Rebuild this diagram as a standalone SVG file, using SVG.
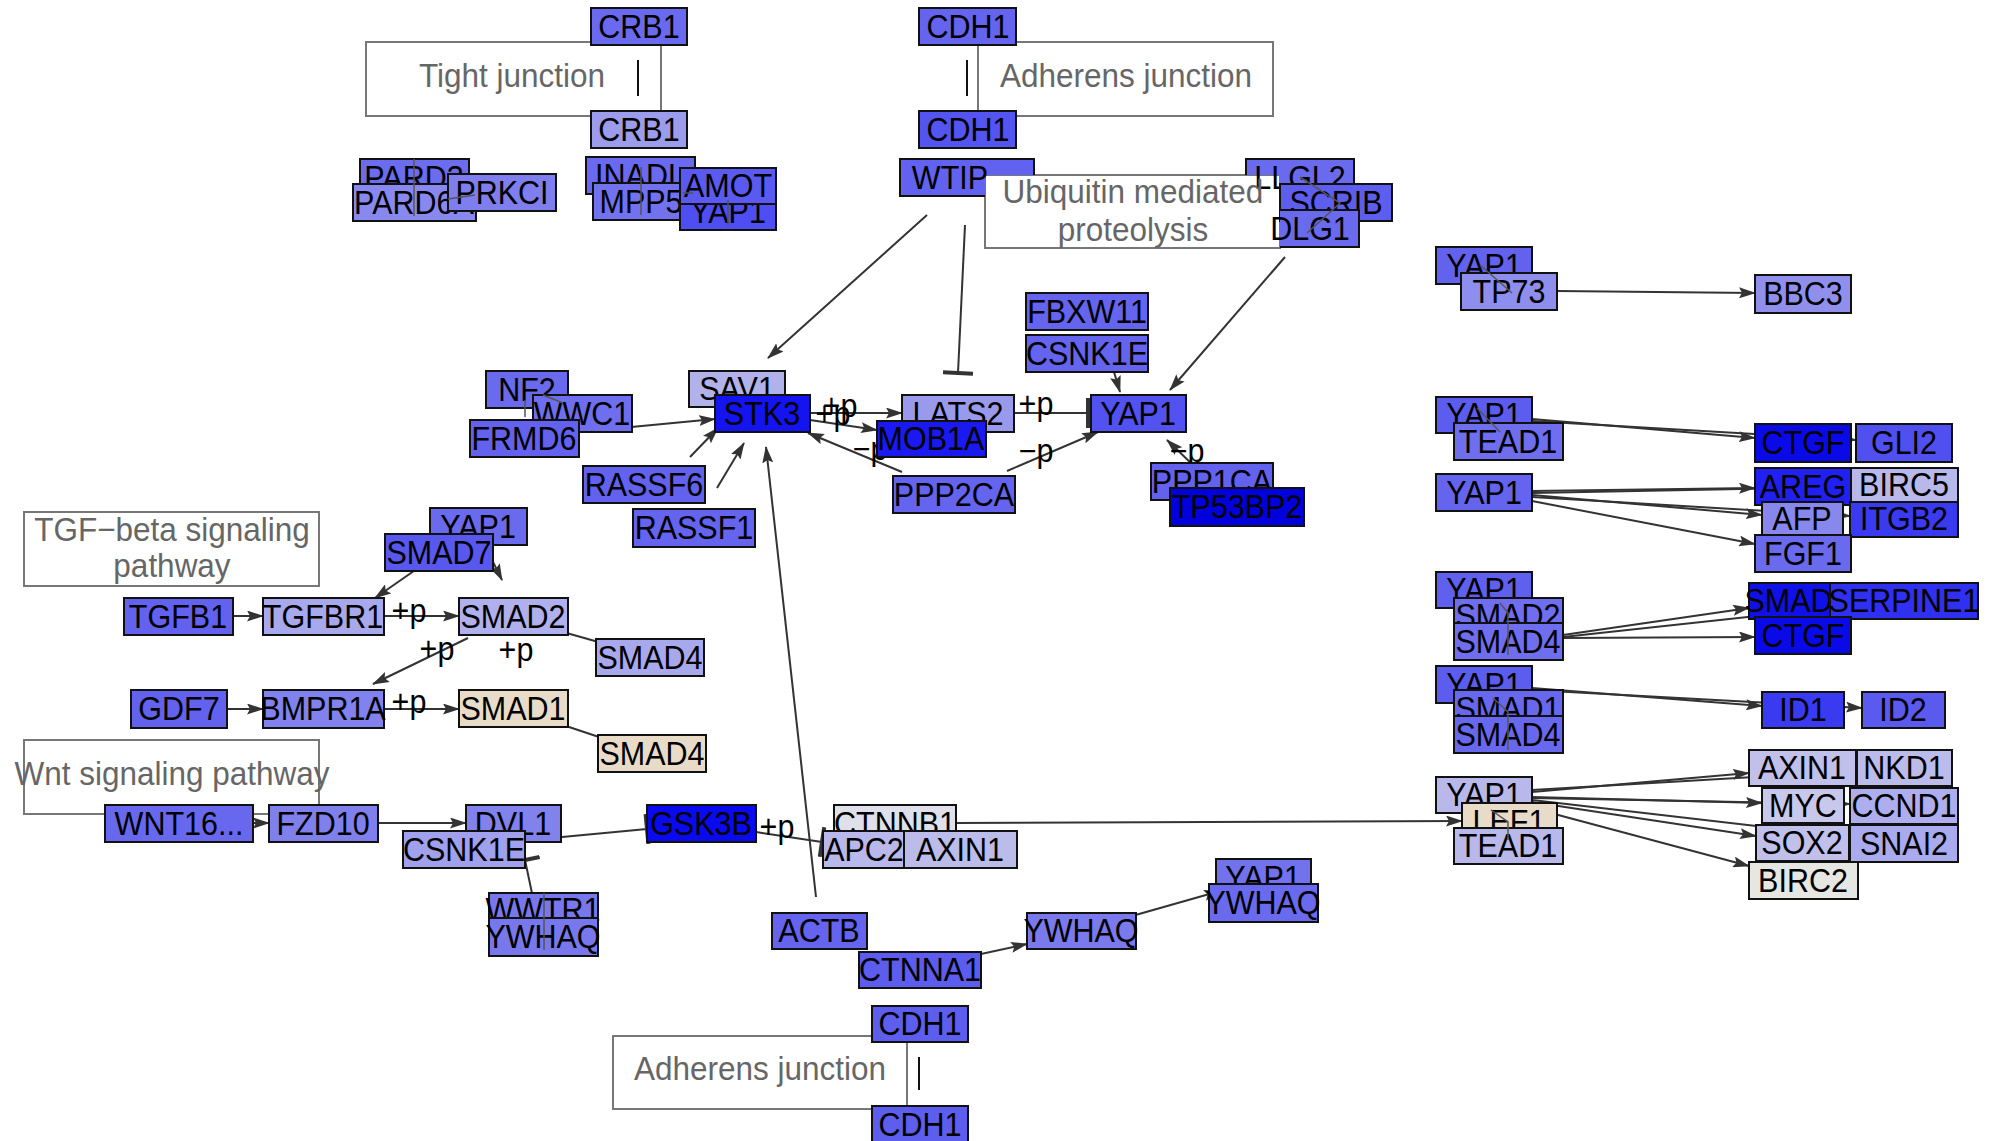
<svg xmlns="http://www.w3.org/2000/svg" width="1996" height="1141" viewBox="0 0 1996 1141">
<style>
.n rect{stroke:#111;stroke-width:2}
.n text,.lbl{font-family:"Liberation Sans",Arial,sans-serif;font-size:30.5px;text-anchor:middle;fill:#000;transform-box:fill-box;transform-origin:50% 70%;transform:scaleY(1.07)}
.grp rect{fill:#fff;stroke:#777;stroke-width:2}
.grp text{font-family:"Liberation Sans",Arial,sans-serif;font-size:31.5px;text-anchor:middle;fill:#666;transform-box:fill-box;transform-origin:50% 70%;transform:scaleY(1.06)}
.e{stroke:#333;stroke-width:2;fill:none}
.ea{stroke:#333;stroke-width:2;fill:none;marker-end:url(#arr)}
.eb{stroke:#333;stroke-width:2;fill:none;marker-end:url(#bar)}
.c{stroke:#555;stroke-width:1.5;fill:none}
.tick{stroke:#111;stroke-width:2}
</style>
<defs>
<marker id="arr" markerUnits="userSpaceOnUse" markerWidth="17" markerHeight="11" refX="16" refY="5.5" orient="auto"><path d="M0,0 L17,5.5 L0,11 L3,5.5 Z" fill="#333"/></marker>
<marker id="bar" markerUnits="userSpaceOnUse" markerWidth="6" markerHeight="30" refX="3" refY="15" orient="auto"><path d="M3,0 V30" stroke="#333" stroke-width="4"/></marker>
<clipPath id="ubq"><path clip-rule="evenodd" d="M0 0H1996V1141H0Z M985 175H1280V248H985Z"/></clipPath>
</defs>
<rect width="1996" height="1141" fill="#fff"/>

<g id="groups">
<g class="grp" id="g-tight"><rect x="366" y="42" width="295" height="74"/><text x="512" y="87">Tight junction</text><line class="tick" x1="638" y1="60" x2="638" y2="96"/></g>
<g class="grp" id="g-adh1"><rect x="978" y="42" width="295" height="74"/><text x="1126" y="87">Adherens junction</text><line class="tick" x1="967" y1="60" x2="967" y2="96"/></g>
<g class="grp" id="g-tgf"><rect x="24" y="512" width="295" height="74"/><text x="172" y="541">TGF−beta signaling</text><text x="172" y="577">pathway</text></g>
<g class="grp" id="g-wnt"><rect x="24" y="740" width="295" height="74"/><text x="172" y="785">Wnt signaling pathway</text></g>
<g class="grp" id="g-adh2"><rect x="613" y="1036" width="294" height="73"/><text x="760" y="1080">Adherens junction</text><line class="tick" x1="919" y1="1057" x2="919" y2="1090"/></g>
<g class="grp" id="g-ubq"><rect x="985" y="175" width="295" height="73"/></g>
</g>

<g id="connectors">
<line class="ea" x1="927" y1="215" x2="768" y2="358"/>
<line class="eb" x1="965" y1="225" x2="958" y2="373"/>
<line class="ea" x1="1285" y1="257" x2="1170" y2="390"/>
<line class="ea" x1="1108" y1="352" x2="1120" y2="392"/>
<line class="eb" x1="1015" y1="413" x2="1088" y2="413"/>
<line class="ea" x1="1007" y1="471" x2="1098" y2="432"/>
<line class="ea" x1="1247" y1="517" x2="1167" y2="440"/>
<line class="ea" x1="810" y1="413" x2="902" y2="413"/>
<line class="ea" x1="810" y1="420" x2="877" y2="430"/>
<line class="ea" x1="902" y1="472" x2="808" y2="433"/>
<line class="ea" x1="579" y1="432" x2="715" y2="419"/>
<line class="ea" x1="690" y1="457" x2="718" y2="428"/>
<line class="ea" x1="717" y1="488" x2="744" y2="443"/>
<line class="ea" x1="816" y1="897" x2="766" y2="447"/>
<line class="ea" x1="480" y1="525" x2="375" y2="598"/>
<line class="ea" x1="490" y1="556" x2="502" y2="580"/>
<line class="ea" x1="233" y1="616" x2="263" y2="616"/>
<line class="ea" x1="384" y1="616" x2="459" y2="616"/>
<line class="ea" x1="468" y1="638" x2="373" y2="684"/>
<line class="ea" x1="227" y1="709" x2="263" y2="709"/>
<line class="ea" x1="384" y1="709" x2="459" y2="709"/>
<line class="ea" x1="253" y1="823" x2="269" y2="823"/>
<line class="ea" x1="378" y1="823" x2="466" y2="823"/>
<line class="eb" x1="509" y1="842" x2="647" y2="829"/>
<line class="eb" x1="533" y1="898" x2="525" y2="860"/>
<line class="eb" x1="756" y1="832" x2="822" y2="842"/>
<line class="ea" x1="956" y1="823" x2="1462" y2="821"/>
<line class="ea" x1="981" y1="954" x2="1027" y2="944"/>
<line class="ea" x1="1132" y1="916" x2="1220" y2="891"/>
<line class="ea" x1="1557" y1="291" x2="1755" y2="293"/>
<line class="ea" x1="1532" y1="419" x2="1755" y2="438"/>
<line class="ea" x1="1532" y1="421" x2="1856" y2="440"/>
<line class="ea" x1="1532" y1="491" x2="1755" y2="488"/>
<line class="ea" x1="1532" y1="493" x2="1851" y2="487"/>
<line class="ea" x1="1532" y1="495" x2="1762" y2="515"/>
<line class="ea" x1="1532" y1="497" x2="1850" y2="516"/>
<line class="ea" x1="1532" y1="501" x2="1755" y2="544"/>
<line class="ea" x1="1563" y1="635" x2="1749" y2="608"/>
<line class="ea" x1="1563" y1="637" x2="1830" y2="608"/>
<line class="ea" x1="1563" y1="638" x2="1755" y2="637"/>
<line class="ea" x1="1532" y1="688" x2="1762" y2="706"/>
<line class="ea" x1="1532" y1="690" x2="1862" y2="708"/>
<line class="ea" x1="1532" y1="792" x2="1749" y2="773"/>
<line class="ea" x1="1532" y1="790" x2="1857" y2="771"/>
<line class="ea" x1="1532" y1="797" x2="1762" y2="803"/>
<line class="ea" x1="1532" y1="798" x2="1850" y2="804"/>
<line class="ea" x1="1532" y1="802" x2="1756" y2="836"/>
<line class="ea" x1="1532" y1="800" x2="1850" y2="837"/>
<line class="ea" x1="1532" y1="808" x2="1749" y2="866"/>
<line class="e" x1="563" y1="632" x2="602" y2="643"/>
<line class="e" x1="563" y1="725" x2="602" y2="738"/>
<line class="e" x1="910" y1="830" x2="943" y2="843"/>
<text class="lbl" x="840" y="417">+p</text>
<text class="lbl" x="833" y="425">+p</text>
<text class="lbl" x="870" y="460">−p</text>
<text class="lbl" x="1036" y="415">+p</text>
<text class="lbl" x="1036" y="462">−p</text>
<text class="lbl" x="1187" y="462">−p</text>
<text class="lbl" x="409" y="622">+p</text>
<text class="lbl" x="437" y="660">+p</text>
<text class="lbl" x="516" y="661">+p</text>
<text class="lbl" x="409" y="713">+p</text>
<text class="lbl" x="777" y="838">+p</text>
</g>

<g id="nodes">
<g class="n" id="n-crb1a"><rect x="591" y="8" width="96" height="37" fill="#6a6af0"/><text x="639" y="38">CRB1</text></g>
<g class="n" id="n-crb1b"><rect x="591" y="111" width="96" height="37" fill="#9c9cec"/><text x="639" y="141">CRB1</text></g>
<g class="n" id="n-cdh1a"><rect x="919" y="8" width="97" height="37" fill="#6464ee"/><text x="968" y="38">CDH1</text></g>
<g class="n" id="n-cdh1b"><rect x="919" y="111" width="97" height="37" fill="#5454f0"/><text x="968" y="141">CDH1</text></g>
<g class="n" id="n-pard3"><rect x="360" y="159" width="109" height="37" fill="#6c6cee"/><text x="414" y="189">PARD3</text></g>
<g class="n" id="n-pard6a"><rect x="353" y="184" width="123" height="37" fill="#8888ee"/><text x="414" y="214">PARD6A</text></g>
<g class="n" id="n-prkci"><rect x="448" y="174" width="108" height="37" fill="#7e7eee"/><text x="502" y="204">PRKCI</text></g>
<g class="n" id="n-inadl"><rect x="586" y="157" width="109" height="37" fill="#6a6af0"/><text x="640" y="187">INADL</text></g>
<g class="n" id="n-mpp5"><rect x="593" y="183" width="96" height="37" fill="#7272ee"/><text x="641" y="213">MPP5</text></g>
<g class="n" id="n-yap1a"><rect x="680" y="193" width="96" height="37" fill="#4e4ef2"/><text x="728" y="223">YAP1</text></g>
<g class="n" id="n-amot"><rect x="680" y="168" width="96" height="36" fill="#5a5af0"/><text x="728" y="197">AMOT</text></g>
<g class="n" id="n-wtip"><rect x="900" y="159" width="134" height="37" fill="#6262f0" clip-path="url(#ubq)"/><text x="950" y="189">WTIP</text></g>
<g class="n" id="n-llgl2"><rect x="1246" y="159" width="108" height="37" fill="#6a6aee" clip-path="url(#ubq)"/><text x="1300" y="189">LLGL2</text></g>
<g class="n" id="n-scrib"><rect x="1280" y="184" width="112" height="37" fill="#5e5eee"/><text x="1336" y="214">SCRIB</text></g>
<g class="n" id="n-dlg1"><rect x="1262" y="210" width="97" height="37" fill="#6a6aee" clip-path="url(#ubq)"/><text x="1310" y="240">DLG1</text></g>
<g class="n" id="n-fbxw11"><rect x="1026" y="293" width="122" height="37" fill="#6464ee"/><text x="1087" y="323">FBXW11</text></g>
<g class="n" id="n-csnk1ea"><rect x="1026" y="335" width="122" height="37" fill="#6464ee"/><text x="1087" y="365">CSNK1E</text></g>
<g class="n" id="n-yap1tr"><rect x="1436" y="247" width="96" height="37" fill="#6262ee"/><text x="1484" y="277">YAP1</text></g>
<g class="n" id="n-tp73"><rect x="1461" y="273" width="96" height="37" fill="#8e8eee"/><text x="1509" y="303">TP73</text></g>
<g class="n" id="n-bbc3"><rect x="1755" y="275" width="96" height="38" fill="#9090ec"/><text x="1803" y="305">BBC3</text></g>

<g class="n" id="n-nf2"><rect x="486" y="371" width="82" height="37" fill="#6a6aee"/><text x="527" y="401">NF2</text></g>
<g class="n" id="n-wwc1"><rect x="533" y="395" width="99" height="37" fill="#6e6eee"/><text x="582" y="425">WWC1</text></g>
<g class="n" id="n-frmd6"><rect x="470" y="420" width="109" height="37" fill="#6262ee"/><text x="524" y="450">FRMD6</text></g>
<g class="n" id="n-sav1"><rect x="689" y="371" width="96" height="36" fill="#b2b2ea"/><text x="737" y="400">SAV1</text></g>
<g class="n" id="n-stk3"><rect x="715" y="395" width="95" height="37" fill="#1414f0"/><text x="762" y="425">STK3</text></g>
<g class="n" id="n-lats2"><rect x="902" y="395" width="112" height="37" fill="#9a9aec"/><text x="958" y="425">LATS2</text></g>
<g class="n" id="n-mob1a"><rect x="877" y="421" width="109" height="36" fill="#1a1af0"/><text x="931" y="450">MOB1A</text></g>
<g class="n" id="n-ppp2ca"><rect x="893" y="476" width="122" height="37" fill="#6464ee"/><text x="954" y="506">PPP2CA</text></g>
<g class="n" id="n-rassf6"><rect x="583" y="466" width="122" height="37" fill="#6262ee"/><text x="644" y="496">RASSF6</text></g>
<g class="n" id="n-rassf1"><rect x="633" y="509" width="122" height="38" fill="#6464ee"/><text x="694" y="539">RASSF1</text></g>
<g class="n" id="n-yap1c"><rect x="1091" y="395" width="95" height="37" fill="#5252f0"/><text x="1138" y="425">YAP1</text></g>
<g class="n" id="n-ppp1ca"><rect x="1151" y="463" width="122" height="37" fill="#6262ee"/><text x="1212" y="493">PPP1CA</text></g>
<g class="n" id="n-tp53bp2"><rect x="1170" y="488" width="134" height="38" fill="#0000dd"/><text x="1237" y="518">TP53BP2</text></g>

<g class="n" id="n-yap1l"><rect x="430" y="508" width="97" height="37" fill="#6a6aee"/><text x="478" y="538">YAP1</text></g>
<g class="n" id="n-smad7l"><rect x="385" y="534" width="108" height="37" fill="#5858ee"/><text x="439" y="564">SMAD7</text></g>
<g class="n" id="n-tgfb1"><rect x="124" y="598" width="109" height="37" fill="#6262ee"/><text x="178" y="628">TGFB1</text></g>
<g class="n" id="n-tgfbr1"><rect x="263" y="598" width="121" height="37" fill="#a8a8ec"/><text x="323" y="628">TGFBR1</text></g>
<g class="n" id="n-smad2"><rect x="459" y="598" width="109" height="37" fill="#b0b0ec"/><text x="513" y="628">SMAD2</text></g>
<g class="n" id="n-smad4a"><rect x="596" y="639" width="108" height="37" fill="#a8a8ec"/><text x="650" y="669">SMAD4</text></g>
<g class="n" id="n-gdf7"><rect x="131" y="690" width="96" height="38" fill="#6262ee"/><text x="179" y="720">GDF7</text></g>
<g class="n" id="n-bmpr1a"><rect x="263" y="690" width="121" height="38" fill="#8282ee"/><text x="323" y="720">BMPR1A</text></g>
<g class="n" id="n-smad1"><rect x="459" y="690" width="109" height="37" fill="#e8dcc8"/><text x="513" y="720">SMAD1</text></g>
<g class="n" id="n-smad4b"><rect x="598" y="735" width="108" height="37" fill="#e8dcc8"/><text x="652" y="765">SMAD4</text></g>
<g class="n" id="n-wnt16"><rect x="105" y="805" width="148" height="37" fill="#6868ee"/><text x="179" y="835">WNT16...</text></g>
<g class="n" id="n-fzd10"><rect x="269" y="805" width="109" height="37" fill="#8080ec"/><text x="323" y="835">FZD10</text></g>
<g class="n" id="n-dvl1"><rect x="466" y="805" width="95" height="37" fill="#8282ec"/><text x="513" y="835">DVL1</text></g>
<g class="n" id="n-csnk1eb"><rect x="403" y="831" width="122" height="37" fill="#a0a0ec"/><text x="464" y="861">CSNK1E</text></g>
<g class="n" id="n-wwtr1"><rect x="489" y="893" width="109" height="37" fill="#7878ec"/><text x="543" y="921">WWTR1</text></g>
<g class="n" id="n-ywhaqa"><rect x="489" y="918" width="109" height="38" fill="#7878ec"/><text x="543" y="948">YWHAQ</text></g>
<g class="n" id="n-gsk3b"><rect x="647" y="805" width="109" height="37" fill="#0a0af0"/><text x="701" y="835">GSK3B</text></g>
<g class="n" id="n-ctnnb1"><rect x="834" y="805" width="122" height="37" fill="#e0e0ea"/><text x="895" y="835">CTNNB1</text></g>
<g class="n" id="n-apc2"><rect x="823" y="831" width="96" height="37" fill="#b8b8ea"/><text x="864" y="861">APC2</text></g>
<g class="n" id="n-axin1a"><rect x="904" y="831" width="113" height="37" fill="#bcbcea"/><text x="960" y="861">AXIN1</text></g>
<g class="n" id="n-actb"><rect x="772" y="913" width="95" height="36" fill="#6464ee"/><text x="819" y="942">ACTB</text></g>
<g class="n" id="n-ctnna1"><rect x="859" y="952" width="122" height="36" fill="#5c5cee"/><text x="920" y="981">CTNNA1</text></g>
<g class="n" id="n-cdh1c"><rect x="872" y="1006" width="96" height="36" fill="#5e5eee"/><text x="920" y="1035">CDH1</text></g>
<g class="n" id="n-cdh1d"><rect x="872" y="1106" width="96" height="37" fill="#5e5eee"/><text x="920" y="1136">CDH1</text></g>
<g class="n" id="n-ywhaqb"><rect x="1027" y="913" width="109" height="36" fill="#7a7aec"/><text x="1081" y="942">YWHAQ</text></g>
<g class="n" id="n-yap1br"><rect x="1216" y="859" width="95" height="37" fill="#7272ec"/><text x="1263" y="889">YAP1</text></g>
<g class="n" id="n-ywhaqc"><rect x="1209" y="884" width="109" height="38" fill="#6a6aee"/><text x="1263" y="914">YWHAQ</text></g>

<g class="n" id="n-yap1r2"><rect x="1436" y="397" width="96" height="36" fill="#5c5cee"/><text x="1484" y="426">YAP1</text></g>
<g class="n" id="n-tead1a"><rect x="1454" y="423" width="109" height="37" fill="#6e6eee"/><text x="1508" y="453">TEAD1</text></g>
<g class="n" id="n-yap1r3"><rect x="1436" y="474" width="96" height="37" fill="#6464ee"/><text x="1484" y="504">YAP1</text></g>
<g class="n" id="n-yap1r4"><rect x="1436" y="572" width="96" height="36" fill="#6060ee"/><text x="1484" y="601">YAP1</text></g>
<g class="n" id="n-smad2r"><rect x="1454" y="598" width="109" height="36" fill="#6e6eee"/><text x="1508" y="627">SMAD2</text></g>
<g class="n" id="n-smad4r"><rect x="1454" y="623" width="109" height="37" fill="#6e6eee"/><text x="1508" y="653">SMAD4</text></g>
<g class="n" id="n-yap1r5"><rect x="1436" y="666" width="96" height="37" fill="#5c5cee"/><text x="1484" y="696">YAP1</text></g>
<g class="n" id="n-smad1r"><rect x="1454" y="690" width="109" height="37" fill="#6868ee"/><text x="1508" y="720">SMAD1</text></g>
<g class="n" id="n-smad4r5"><rect x="1454" y="716" width="109" height="37" fill="#6868ee"/><text x="1508" y="746">SMAD4</text></g>
<g class="n" id="n-yap1r6"><rect x="1436" y="777" width="96" height="36" fill="#b8b8ea"/><text x="1484" y="806">YAP1</text></g>
<g class="n" id="n-lef1"><rect x="1462" y="803" width="95" height="37" fill="#e8dcc8"/><text x="1509" y="833">LEF1</text></g>
<g class="n" id="n-tead1b"><rect x="1454" y="828" width="109" height="36" fill="#b8b8ea"/><text x="1508" y="857">TEAD1</text></g>

<g class="n" id="n-ctgfa"><rect x="1755" y="424" width="96" height="38" fill="#0a0ae8"/><text x="1803" y="454">CTGF</text></g>
<g class="n" id="n-gli2"><rect x="1856" y="424" width="96" height="38" fill="#5050f0"/><text x="1904" y="454">GLI2</text></g>
<g class="n" id="n-areg"><rect x="1755" y="468" width="96" height="37" fill="#2020f0"/><text x="1803" y="498">AREG</text></g>
<g class="n" id="n-birc5"><rect x="1851" y="468" width="107" height="34" fill="#b8b8ea"/><text x="1904" y="496">BIRC5</text></g>
<g class="n" id="n-afp"><rect x="1762" y="502" width="81" height="34" fill="#8888ec"/><text x="1802" y="530">AFP</text></g>
<g class="n" id="n-itgb2"><rect x="1850" y="502" width="108" height="35" fill="#3a3af0"/><text x="1904" y="530">ITGB2</text></g>
<g class="n" id="n-fgf1"><rect x="1755" y="535" width="96" height="37" fill="#6a6aee"/><text x="1803" y="565">FGF1</text></g>
<g class="n" id="n-smad7r"><rect x="1749" y="583" width="96" height="36" fill="#1010e8"/><text x="1797" y="612">SMAD7</text></g>
<g class="n" id="n-serpine1"><rect x="1830" y="583" width="148" height="36" fill="#3030f0"/><text x="1904" y="612">SERPINE1</text></g>
<g class="n" id="n-ctgfb"><rect x="1755" y="617" width="96" height="37" fill="#0a0ae8"/><text x="1803" y="647">CTGF</text></g>
<g class="n" id="n-id1"><rect x="1762" y="692" width="82" height="36" fill="#3a3af0"/><text x="1803" y="721">ID1</text></g>
<g class="n" id="n-id2"><rect x="1862" y="692" width="83" height="36" fill="#5a5aee"/><text x="1903" y="721">ID2</text></g>
<g class="n" id="n-axin1r"><rect x="1749" y="750" width="107" height="36" fill="#c0c0ea"/><text x="1802" y="779">AXIN1</text></g>
<g class="n" id="n-nkd1"><rect x="1857" y="750" width="95" height="36" fill="#bcbcea"/><text x="1904" y="779">NKD1</text></g>
<g class="n" id="n-myc"><rect x="1762" y="788" width="82" height="35" fill="#c8c8ec"/><text x="1803" y="817">MYC</text></g>
<g class="n" id="n-ccnd1"><rect x="1850" y="788" width="108" height="36" fill="#aeaeee"/><text x="1904" y="817">CCND1</text></g>
<g class="n" id="n-sox2"><rect x="1756" y="825" width="93" height="36" fill="#c0c0ea"/><text x="1802" y="854">SOX2</text></g>
<g class="n" id="n-snai2"><rect x="1850" y="825" width="108" height="37" fill="#aaaaee"/><text x="1904" y="855">SNAI2</text></g>
<g class="n" id="n-birc2"><rect x="1749" y="862" width="109" height="37" fill="#e6e6e2"/><text x="1803" y="892">BIRC2</text></g>
</g>

<g id="ubq-label" class="grp"><text x="1133" y="203">Ubiquitin mediated</text><text x="1133" y="241">proteolysis</text></g>

<g id="complex-links">
<line class="c" x1="414" y1="159" x2="414" y2="216"/>
<line class="c" x1="448" y1="199" x2="475" y2="195"/>
<line class="c" x1="641" y1="167" x2="641" y2="215"/>
<line class="c" x1="683" y1="193" x2="693" y2="193"/>
<line class="c" x1="728" y1="200" x2="728" y2="225"/>
<polyline class="c" points="1300,177 1340,203 1307,233"/>
<line class="c" x1="543" y1="395" x2="563" y2="403"/>
<line class="c" x1="525" y1="400" x2="525" y2="417"/>
<line class="c" x1="1480" y1="265" x2="1512" y2="293"/>
<line class="c" x1="1477" y1="408" x2="1500" y2="432"/>
<polyline class="c" points="1500,603 1508,613 1508,655"/>
<polyline class="c" points="1493,698 1508,712 1508,750"/>
<polyline class="c" points="1491,810 1508,822 1508,840"/>
<line class="c" x1="544" y1="893" x2="544" y2="950"/>
</g>
</svg>
